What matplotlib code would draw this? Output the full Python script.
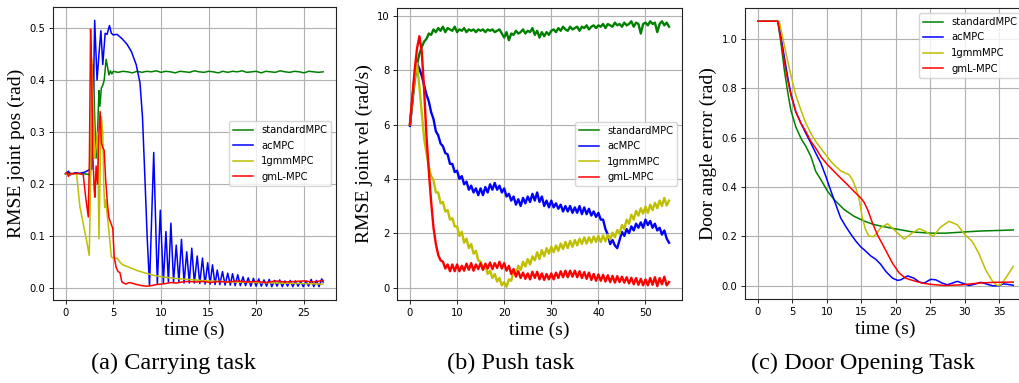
import numpy as np
import matplotlib

matplotlib.use('Agg')
from matplotlib import pyplot as plt

W, H = 1019, 383
COLORS = {'standardMPC': 'g', 'acMPC': 'b', '1gmmMPC': 'y', 'gmL-MPC': 'r'}
SERIF = 'Liberation Serif'

# ---------------- (a) Carrying task ----------------
a_green_t = [0, 0.3, 0.6, 1.0, 1.5, 2.0, 2.6, 2.75, 2.9, 3.05, 3.2, 3.35, 3.5, 3.6, 3.75, 3.9,
             4.05, 4.25, 4.4, 4.55, 4.7, 4.85, 5.0,
             5.5, 6.0, 6.5, 7.0, 7.5, 8.0, 8.5, 9.0, 9.5, 10.0, 10.5, 11.0, 11.5, 12.0, 12.5,
             13.0, 13.5, 14.0, 14.5, 15.0, 15.5, 16.0, 16.5, 17.0, 17.5, 18.0, 18.5, 19.0,
             19.5, 20.0, 20.5, 21.0, 21.5, 22.0, 22.5, 23.0, 23.5, 24.0, 24.5, 25.0, 25.5,
             26.0, 26.5, 27.0]
a_green_v = [0.22, 0.222, 0.22, 0.221, 0.22, 0.22, 0.218, 0.30, 0.43, 0.33, 0.25, 0.30, 0.38,
             0.35, 0.385, 0.39, 0.40, 0.44, 0.425, 0.41, 0.418, 0.412, 0.417,
             0.415, 0.417, 0.416, 0.414, 0.417, 0.415, 0.417, 0.416, 0.418, 0.415, 0.417,
             0.416, 0.414, 0.417, 0.416, 0.415, 0.418, 0.416, 0.415, 0.417, 0.416, 0.414,
             0.417, 0.415, 0.417, 0.416, 0.418, 0.415, 0.416, 0.417, 0.414, 0.417, 0.416,
             0.415, 0.418, 0.416, 0.415, 0.417, 0.416, 0.414, 0.417, 0.416, 0.415, 0.416]

a_blue_t = [0, 0.3, 0.5, 1.0, 1.5, 2.0, 2.5, 2.75, 2.9, 3.05, 3.3, 3.5, 3.7, 3.9, 4.15, 4.35,
            4.6, 4.8, 5.0, 5.4, 5.9, 6.4, 6.9, 7.4, 7.8, 8.06, 8.3, 8.55, 8.8,
            9.24, 9.62, 9.93, 10.25, 10.52, 10.78, 11.04, 11.32, 11.6, 11.88, 12.15, 12.42,
            12.7, 12.97, 13.23, 13.5, 13.8, 14.07, 14.35, 14.62, 14.9, 15.15, 15.4, 15.67,
            15.9, 16.17, 16.45, 16.72, 17.0, 17.27, 17.5, 17.78, 18.05, 18.32, 18.6, 18.87,
            19.15, 19.42, 19.7, 19.97, 20.25, 20.52, 20.8, 21.07, 21.35, 21.62, 21.9, 22.17,
            22.45, 22.72, 23.0, 23.27, 23.55, 23.82, 24.1, 24.37, 24.65, 24.92, 25.2, 25.47,
            25.75, 26.02, 26.3, 26.57, 26.85, 27.0]
a_blue_v = [0.22, 0.225, 0.218, 0.222, 0.221, 0.223, 0.228, 0.229, 0.35, 0.515, 0.40, 0.45,
            0.495, 0.43, 0.49, 0.488, 0.505, 0.49, 0.487, 0.488, 0.48, 0.47, 0.455, 0.43,
            0.395, 0.33, 0.22, 0.10, 0.005,
            0.261, 0.008, 0.15, 0.01, 0.109, 0.012, 0.125, 0.012, 0.083, 0.012, 0.094, 0.01,
            0.07, 0.01, 0.077, 0.01, 0.062, 0.009, 0.058, 0.008, 0.049, 0.008, 0.045, 0.007,
            0.035, 0.007, 0.032, 0.006, 0.029, 0.006, 0.028, 0.005, 0.026, 0.005, 0.022,
            0.005, 0.02, 0.004, 0.019, 0.004, 0.018, 0.004, 0.016, 0.004, 0.017, 0.003, 0.015,
            0.004, 0.016, 0.003, 0.014, 0.004, 0.015, 0.003, 0.014, 0.004, 0.013, 0.003,
            0.014, 0.004, 0.017, 0.003, 0.015, 0.003, 0.018, 0.012]

a_yellow_t = [0, 0.3, 0.6, 1.15, 1.5, 1.85, 2.2, 2.48, 2.62, 2.75, 2.9, 3.05, 3.2, 3.35, 3.5,
              3.6, 3.75, 3.9, 4.0, 4.1, 4.2, 4.5, 4.8, 5.1, 5.4, 5.7, 6.0, 6.7, 7.5, 8.4, 9.2,
              10, 11, 12, 13.5, 15, 17.5, 20, 22.5, 25, 27]
a_yellow_v = [0.22, 0.218, 0.22, 0.22, 0.157, 0.124, 0.092, 0.063, 0.2, 0.44, 0.36, 0.25,
              0.27, 0.3, 0.095, 0.2, 0.33, 0.3, 0.2, 0.155, 0.17, 0.118, 0.06, 0.057, 0.058,
              0.05, 0.045, 0.04, 0.034, 0.029, 0.025, 0.022, 0.02, 0.018, 0.016, 0.014, 0.012,
              0.011, 0.01, 0.009, 0.008]

a_red_t = [0, 0.15, 0.3, 0.5, 0.8, 1.2, 1.6, 1.85, 2.1, 2.38, 2.5, 2.62, 2.72, 2.85, 3.0,
           3.08, 3.2, 3.35, 3.5, 3.62, 3.75, 3.9, 4.05, 4.2, 4.4, 4.55, 4.75, 4.95, 5.1, 5.3,
           5.5, 5.7, 5.9, 6.3, 6.7, 7.1, 7.5, 8.0, 8.5, 9.0, 9.5, 10, 10.5, 11, 11.6, 12.2,
           12.8, 13.6, 14.4, 15.2, 16, 17, 18, 19, 20, 21, 22, 23, 24, 25, 26, 27]
a_red_v = [0.22, 0.223, 0.215, 0.221, 0.22, 0.221, 0.22, 0.218, 0.176, 0.137, 0.25, 0.498,
           0.43, 0.26, 0.19, 0.175, 0.235, 0.2, 0.3, 0.34, 0.28, 0.27, 0.265, 0.21, 0.16,
           0.135, 0.125, 0.115, 0.06, 0.04, 0.032, 0.03, 0.012, 0.008, 0.011, 0.009, 0.007,
           0.005, 0.004, 0.005, 0.007, 0.008, 0.009, 0.011, 0.01, 0.012, 0.013, 0.012, 0.013,
           0.011, 0.013, 0.012, 0.014, 0.012, 0.013, 0.011, 0.014, 0.012, 0.013, 0.014,
           0.012, 0.015]

# ---------------- (b) Push task (sampled every 0.5 s) ----------------
b_t = np.arange(0, 55.01, 0.5)
b_green = [6.0, 6.8, 7.6, 8.2, 8.6, 8.85, 9.05, 9.15, 9.35, 9.3,
           9.5, 9.4, 9.55, 9.45, 9.6, 9.4, 9.55, 9.5, 9.45, 9.6,
           9.4, 9.5, 9.45, 9.55, 9.4, 9.5, 9.45, 9.5, 9.4, 9.5,
           9.45, 9.5, 9.4, 9.5, 9.45, 9.5, 9.4, 9.45, 9.5, 9.35,
           9.2, 9.4, 9.1, 9.35, 9.3, 9.45, 9.35, 9.4, 9.5, 9.35,
           9.45, 9.4, 9.55, 9.3, 9.45, 9.2, 9.4, 9.25, 9.4, 9.3,
           9.45, 9.5, 9.4, 9.55, 9.45, 9.6, 9.5, 9.45, 9.6, 9.5,
           9.55, 9.6, 9.45, 9.6, 9.55, 9.65, 9.5, 9.6, 9.65, 9.55,
           9.65, 9.6, 9.7, 9.55, 9.7, 9.65, 9.6, 9.75, 9.65, 9.7,
           9.6, 9.75, 9.65, 9.7, 9.8, 9.6, 9.75, 9.7, 9.35, 9.7,
           9.75, 9.65, 9.8, 9.7, 9.75, 9.4, 9.7, 9.8, 9.65, 9.75, 9.6]
b_blue = [5.95, 6.9, 7.8, 8.25, 8.05, 7.8, 7.45, 7.1, 6.85, 6.45,
          6.2, 5.75, 5.6, 5.3, 5.2, 4.95, 4.9, 4.55, 4.55, 4.25,
          4.3, 4.0, 4.1, 3.8, 3.9, 3.6, 3.75, 3.5, 3.65, 3.4,
          3.65, 3.4, 3.7, 3.5, 3.8, 3.6, 3.85, 3.6, 3.75, 3.5,
          3.65, 3.35, 3.45, 3.2, 3.35, 3.05, 3.25, 3.0, 3.3, 3.1,
          3.35, 3.15, 3.45, 3.2, 3.5, 3.15, 3.35, 3.0, 3.2, 2.95,
          3.2, 2.95, 3.1, 2.9, 3.05, 2.8, 3.0, 2.8, 3.0, 2.75,
          2.95, 2.75, 3.0, 2.7, 2.95, 2.7, 2.9, 2.65, 2.8, 2.6,
          2.75, 2.5, 2.5, 2.15, 1.95, 1.6, 1.75, 1.55, 1.45, 1.75,
          2.05, 1.9, 2.15, 2.0, 2.25, 2.1, 2.35, 2.2, 2.4, 2.2,
          2.5, 2.3, 2.45, 2.2, 2.35, 2.1, 2.2, 1.95, 2.1, 1.8, 1.65]
b_yellow = [6.0, 6.9, 7.7, 8.25, 7.4, 6.45, 5.5, 4.95, 4.45, 4.1,
            3.95, 3.5, 3.5, 3.1, 3.15, 2.8, 2.85, 2.5, 2.55, 2.25,
            2.25, 1.9, 2.05, 1.65, 1.8, 1.45, 1.6, 1.25, 1.35, 1.0,
            0.95, 0.68, 0.8, 0.5, 0.62, 0.35, 0.5, 0.22, 0.35, 0.08,
            0.2, 0.03, 0.3, 0.25, 0.6, 0.5, 0.8, 0.65, 0.95, 0.78,
            1.05, 0.85, 1.15, 1.0, 1.3, 1.05, 1.38, 1.15, 1.45, 1.25,
            1.5, 1.3, 1.55, 1.35, 1.62, 1.42, 1.68, 1.45, 1.72, 1.5,
            1.75, 1.55, 1.8, 1.6, 1.85, 1.62, 1.85, 1.65, 1.88, 1.68,
            1.9, 1.68, 1.92, 1.7, 1.95, 1.76, 2.02, 1.85, 2.12, 1.98,
            2.3, 2.15, 2.5, 2.35, 2.68, 2.5, 2.82, 2.65, 2.92, 2.72,
            2.98, 2.75, 3.05, 2.85, 3.12, 2.92, 3.2, 3.0, 3.3, 3.02, 3.2]
b_red = [6.0, 7.0, 8.0, 8.8, 9.25, 8.7, 7.3, 5.6, 4.3, 3.15,
         2.2, 1.6, 1.2, 1.0, 0.95, 0.7, 0.85, 0.6, 0.85, 0.6,
         0.85, 0.6, 0.8, 0.62, 0.88, 0.65, 0.9, 0.62, 0.85, 0.68,
         0.9, 0.65, 0.88, 0.7, 0.92, 0.68, 0.9, 0.72, 0.95, 0.7,
         0.9, 0.62, 0.8, 0.5, 0.68, 0.4, 0.6, 0.35, 0.55, 0.32,
         0.52, 0.3, 0.58, 0.35, 0.58, 0.3, 0.52, 0.28, 0.5, 0.3,
         0.52, 0.3, 0.55, 0.35, 0.6, 0.38, 0.62, 0.38, 0.62, 0.4,
         0.62, 0.38, 0.6, 0.35, 0.57, 0.32, 0.55, 0.28, 0.5, 0.25,
         0.48, 0.25, 0.47, 0.22, 0.45, 0.2, 0.43, 0.18, 0.42, 0.2,
         0.4, 0.18, 0.38, 0.15, 0.36, 0.12, 0.35, 0.1, 0.32, 0.08,
         0.3, 0.08, 0.35, 0.1, 0.38, 0.05, 0.35, 0.12, 0.4, 0.08, 0.2]

# ---------------- (c) Door opening task ----------------
c_green_t = [0, 2.9, 3.37, 3.85, 4.33, 4.8, 5.5, 6.25, 6.97, 7.7, 8.4, 9.13, 10.1, 11.05,
             12.5, 13.9, 15.4, 16.8, 18.3, 20, 22.4, 25, 27.2, 30, 32.5, 35, 37]
c_green_v = [1.071, 1.071, 0.98, 0.872, 0.785, 0.71, 0.644, 0.597, 0.564, 0.523, 0.463,
             0.43, 0.383, 0.349, 0.309, 0.282, 0.262, 0.248, 0.239, 0.23, 0.218, 0.213,
             0.213, 0.218, 0.222, 0.224, 0.226]
c_blue_t = [0, 2.9, 3.37, 3.85, 4.33, 4.8, 5.5, 6.25, 6.97, 7.7, 8.4, 9.13, 9.86, 10.6, 11.3,
            12.0, 12.7, 13.5, 14.2, 14.9, 15.6, 16.35, 17.1, 17.8, 18.55, 19.5, 20.25, 20.7,
            21.7, 22.6, 23.4, 24.1, 25.05, 25.8, 26.7, 27.45, 28.2, 28.9, 29.6, 30.6, 31.5,
            32.3, 33, 34, 34.9, 35.6, 36.35, 37]
c_blue_v = [1.071, 1.071, 1.007, 0.926, 0.846, 0.778, 0.705, 0.658, 0.617, 0.577, 0.537,
            0.497, 0.443, 0.383, 0.329, 0.275, 0.242, 0.208, 0.181, 0.158, 0.141, 0.121,
            0.107, 0.087, 0.058, 0.031, 0.022, 0.024, 0.04, 0.031, 0.015, 0.011, 0.026,
            0.024, 0.011, 0.004, 0.011, 0.018, 0.011, 0.001, 0.007, 0.014, 0.008, 0.0, 0.0,
            0.008, 0.005, 0.002]
c_yellow_t = [0, 3.1, 3.6, 4.1, 4.8, 5.5, 6.25, 6.97, 7.7, 8.4, 9.13, 9.86, 10.6, 11.3, 12.0,
              12.7, 13.2, 13.7, 14.2, 14.7, 15.1, 15.6, 16.1, 16.8, 17.3, 17.8, 18.8, 20,
              21.2, 22.4, 23.4, 24.3, 25.4, 26.5, 27.7, 28.9, 30, 31.05, 32, 33, 34, 34.7,
              35.2, 35.9, 37]
c_yellow_v = [1.071, 1.071, 1.007, 0.94, 0.852, 0.772, 0.711, 0.658, 0.617, 0.584, 0.557,
              0.53, 0.503, 0.483, 0.466, 0.456, 0.45, 0.43, 0.396, 0.349, 0.282, 0.228,
              0.201, 0.199, 0.215, 0.235, 0.251, 0.22, 0.189, 0.214, 0.231, 0.22, 0.2, 0.238,
              0.261, 0.247, 0.207, 0.18, 0.132, 0.065, 0.018, 0.001, 0.004, 0.031, 0.078]
c_red_t = [0, 2.9, 3.37, 3.85, 4.33, 4.8, 5.5, 6.25, 6.97, 7.7, 8.4, 9.13, 10.1, 11.05, 12.0,
           13.0, 13.9, 14.9, 15.4, 15.9, 16.6, 17.3, 18.2, 19.5, 20.5, 21.4, 22.4, 23.8,
           25.3, 27.2, 29.6, 32, 34.4, 37]
c_red_v = [1.071, 1.071, 0.993, 0.906, 0.832, 0.772, 0.705, 0.658, 0.624, 0.584, 0.557,
           0.523, 0.49, 0.463, 0.436, 0.409, 0.383, 0.356, 0.338, 0.309, 0.255, 0.208, 0.161,
           0.092, 0.051, 0.031, 0.022, 0.011, 0.005, 0.001, 0.004, 0.011, 0.014, 0.015]

panels = [
    dict(rect=[52.7, 7, 336, 300], ylabel='RMSE joint pos (rad)', loc='center right', lw=1.1,
         xticks=[0, 5, 10, 15, 20, 25], yticks=[0.0, 0.1, 0.2, 0.3, 0.4, 0.5], fmt='%.1f',
         series=[(a_green_t, a_green_v), (a_blue_t, a_blue_v),
                 (a_yellow_t, a_yellow_v), (a_red_t, a_red_v)]),
    # noisy recordings: drawn a bit thicker so the jitter reads as a band
    dict(rect=[397, 8, 682, 300], ylabel='RMSE joint vel (rad/s)', loc='center right', lw=1.7,
         xticks=[0, 10, 20, 30, 40, 50], yticks=[0, 2, 4, 6, 8, 10], fmt='%d',
         series=[(b_t, b_green), (b_t, b_blue), (b_t, b_yellow), (b_t, b_red)]),
    dict(rect=[745, 8, 1026, 299], ylabel='Door angle error (rad)', loc='upper right', lw=1.1,
         xticks=[0, 5, 10, 15, 20, 25, 30, 35], yticks=[0.0, 0.2, 0.4, 0.6, 0.8, 1.0],
         fmt='%.1f',
         series=[(c_green_t, c_green_v), (c_blue_t, c_blue_v),
                 (c_yellow_t, c_yellow_v), (c_red_t, c_red_v)]),
]
captions = [('(a) Carrying task', 173), ('(b) Push task', 511), ('(c) Door Opening Task', 863)]

fig = plt.figure(figsize=(W / 100, H / 100), dpi=100)
for p in panels:
    x0, y0, x1, y1 = p['rect']
    ax = fig.add_axes([x0 / W, 1 - y1 / H, (x1 - x0) / W, (y1 - y0) / H])
    for (t, v), name in zip(p['series'], COLORS):
        ax.plot(t, v, color=COLORS[name], lw=p['lw'], label=name)
    ax.set_xticks(p['xticks'])
    ax.set_yticks(p['yticks'])
    ax.yaxis.set_major_formatter(matplotlib.ticker.FormatStrFormatter(p['fmt']))
    ax.grid(True, color='#b0b0b0', lw=0.8)
    ax.set_axisbelow(True)
    ax.tick_params(labelsize=7.2, length=3, width=0.6, pad=2.5)
    for s in ax.spines.values():
        s.set_linewidth(0.8)
        s.set_color('#222222')
    ax.set_xlabel('time (s)', family=SERIF, fontsize=14, labelpad=3)
    ax.set_ylabel(p['ylabel'], family=SERIF, fontsize=14, labelpad=3)
    leg = ax.legend(loc=p['loc'], fontsize=7.2, framealpha=0.8, labelspacing=0.55)
    for line in leg.get_lines():
        line.set_linewidth(1.1)

for text, xc in captions:
    fig.text(xc / W, 1 - 363 / H, text, family=SERIF, fontsize=17.5, ha='center', va='center')

fig.savefig('out.png', dpi=100)
